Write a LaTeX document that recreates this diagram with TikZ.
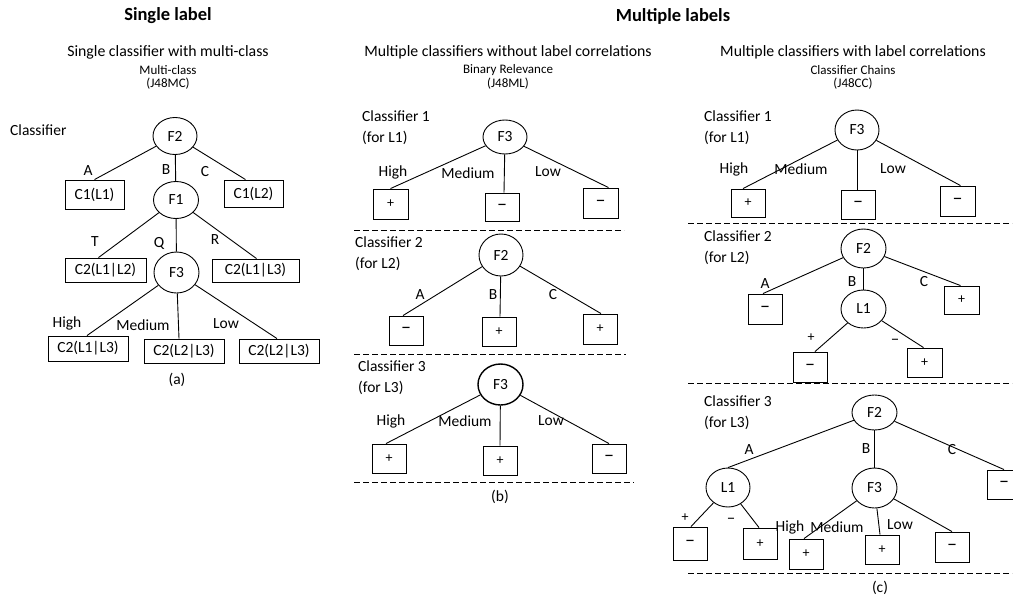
\documentclass[tikz,border=0pt]{standalone}
\usepackage{fontspec}
\setmainfont{Carlito}
\usetikzlibrary{shapes.geometric}
\tikzset{
  cnode/.style={ellipse,draw,line width=0.9pt,inner sep=0pt,font={\fontsize{15.5}{18}\selectfont}},
  bx/.style={rectangle,draw,line width=0.9pt,inner sep=0pt,font={\fontsize{15.5}{18}\selectfont}},
  sbx/.style={rectangle,draw,line width=0.9pt,inner sep=0pt,minimum width=34pt,minimum height=29pt,font={\fontsize{14}{16}\selectfont}},
  mbx/.style={sbx,font={\fontsize{20}{20}\selectfont}},
  lbl/.style={inner sep=0pt,font={\fontsize{15.5}{18}\selectfont}},
  sgn/.style={inner sep=0pt,font={\fontsize{14}{16}\selectfont}},
  msgn/.style={inner sep=0pt,font={\fontsize{17}{17}\selectfont}},
  cl/.style={inner sep=0pt,anchor=west,align=left,font={\fontsize{15.5}{21}\selectfont}},
  ttl/.style={inner sep=0pt,font={\fontsize{18.5}{22}\selectfont\bfseries}},
  sub/.style={inner sep=0pt,font={\fontsize{15.8}{19}\selectfont}},
  sml/.style={inner sep=0pt,font={\fontsize{13}{15}\selectfont}},
  edge/.style={line width=0.9pt},
  sep/.style={line width=0.9pt,dash pattern=on 6pt off 3pt},
}
\begin{document}
\begin{tikzpicture}[x=1pt,y=-1pt]
\useasboundingbox (0,0) rectangle (1013,598);
% ---------------- Panel (a)
\node[ttl] (tA) at (168,16) {Single label};
\node[sub] (sA1) at (168,52) {Single classifier with multi-class};
\node[sml] (sA2) at (168,70) {Multi-class};
\node[sml] (sA3) at (168,84) {(J48MC)};
\node[cl] (clA) at (10,130) {Classifier};
\node[cnode,minimum width=44pt,minimum height=37pt] (aF2) at (175,136) {F2};
\node[bx,minimum width=59pt,minimum height=29pt] (aC1L1) at (94.5,194.5) {C1(L1)};
\node[bx,minimum width=59pt,minimum height=27pt] (aC1L2) at (253.5,193.5) {C1(L2)};
\node[cnode,minimum width=45pt,minimum height=37pt] (aF1) at (176,200) {F1};
\node[bx,minimum width=81pt,minimum height=24pt] (aC2a) at (105.5,270) {C2(L1|L2)};
\node[cnode,minimum width=45pt,minimum height=41pt] (aF3) at (176.5,272.5) {F3};
\node[bx,minimum width=87pt,minimum height=23pt] (aC2b) at (255.5,270.5) {C2(L1|L3)};
\node[bx,minimum width=80pt,minimum height=25pt] (aC2c) at (88,348.5) {C2(L1|L3)};
\node[bx,minimum width=80pt,minimum height=24pt] (aC2d) at (184,351) {C2(L2|L3)};
\node[bx,minimum width=80pt,minimum height=24pt] (aC2e) at (279,351) {C2(L2|L3)};
\draw[edge] (aF2) -- (aC1L1.north);
\draw[edge] (aF2) -- (aF1);
\draw[edge] (aF2) -- ([xshift=-8pt]aC1L2.north);
\draw[edge] (aF1) -- ([xshift=-7pt]aC2a.north);
\draw[edge] (aF1) -- (aF3);
\draw[edge] (aF1) -- ([xshift=1pt]aC2b.north);
\draw[edge] (aF3) -- ([xshift=-1pt]aC2c.north);
\draw[edge] (aF3) -- ([xshift=-5pt]aC2d.north);
\draw[edge] (aF3) -- ([xshift=-2pt]aC2e.north);
\node[lbl] (aLA) at (88,171) {A};
\node[lbl] (aLB) at (166,170) {B};
\node[lbl] (aLC) at (205,172) {C};
\node[lbl] (aLT) at (95,242) {T};
\node[lbl] (aLQ) at (159,243) {Q};
\node[lbl] (aLR) at (215,240) {R};
\node[lbl] (aLH) at (67,323) {High};
\node[lbl] (aLM) at (143,325) {Medium};
\node[lbl] (aLL) at (226,324) {Low};
\node[lbl] (capA) at (177,380) {(a)};
% ---------------- Panel (b)
\node[ttl] (tB) at (673,16) {Multiple labels};
\node[sub] (sB1) at (508,52) {Multiple classifiers without label correlations};
\node[sml] (sB2) at (508,70) {Binary Relevance};
\node[sml] (sB3) at (508,84) {(J48ML)};
% classifier 1
\node[cl] (clB1) at (362,127.5) {Classifier 1\\(for L1)};
\node[cnode,minimum width=44pt,minimum height=34pt] (b1F3) at (505,137) {F3};
\node[sbx,minimum width=35pt,minimum height=30pt] (b1a) at (390.5,204) {+};
\node[mbx,minimum height=28pt] (b1b) at (502,207) {–};
\node[mbx,minimum width=35pt,minimum height=30pt] (b1c) at (600.5,203) {–};
\draw[edge] (b1F3) -- (b1a.north);
\draw[edge] (b1F3) -- ([xshift=2pt]b1b.north);
\draw[edge] (b1F3) -- ([xshift=8pt]b1c.north);
\node[lbl] (b1H) at (393,172) {High};
\node[lbl] (b1M) at (468,173) {Medium};
\node[lbl] (b1L) at (548,172) {Low};
\coordinate (bd1s) at (354,230); \coordinate (bd1e) at (624,230);
\draw[sep] (bd1s) -- (bd1e);
% classifier 2
\node[cl] (clB2) at (355,254) {Classifier 2\\(for L2)};
\node[cnode,minimum width=44pt,minimum height=42pt] (b2F2) at (501,255) {F2};
\node[mbx] (b2a) at (406,330.5) {–};
\node[sbx] (b2b) at (499,331.5) {+};
\node[sbx,minimum height=30pt] (b2c) at (600,329) {+};
\draw[edge] (b2F2) -- ([xshift=-3pt]b2a.north);
\draw[edge] (b2F2) -- ([xshift=1pt]b2b.north);
\draw[edge] (b2F2) -- ([xshift=1pt]b2c.north);
\node[lbl] (b2A) at (420,295) {A};
\node[lbl] (b2B) at (493,295) {B};
\node[lbl] (b2C) at (553,295) {C};
\coordinate (bd2s) at (354,354); \coordinate (bd2e) at (626,354);
\draw[sep] (bd2s) -- (bd2e);
% classifier 3
\node[cl] (clB3) at (358,377.5) {Classifier 3\\(for L3)};
\node[cnode,minimum width=45pt,minimum height=41pt,line width=1.4pt] (b3F3) at (500.5,384.5) {F3};
\node[sbx] (b3a) at (389,458.5) {+};
\node[sbx] (b3b) at (500,460.5) {+};
\node[mbx] (b3c) at (609,458.5) {–};
\draw[edge] (b3F3) -- ([xshift=-3pt]b3a.north);
\draw[edge] (b3F3) -- (b3b.north);
\draw[edge] (b3F3) -- (b3c.north);
\node[lbl] (b3H) at (391,421) {High};
\node[lbl] (b3M) at (465,421) {Medium};
\node[lbl] (b3L) at (551,421) {Low};
\coordinate (bd3s) at (354,482); \coordinate (bd3e) at (634,482);
\draw[sep] (bd3s) -- (bd3e);
\node[lbl] (capB) at (500,497) {(b)};
% ---------------- Panel (c)
\node[sub] (sC1) at (853,52) {Multiple classifiers with label correlations};
\node[sml] (sC2) at (853,70) {Classifier Chains};
\node[sml] (sC3) at (853,84) {(J48CC)};
% classifier 1
\node[cl] (clC1) at (704,127.5) {Classifier 1\\(for L1)};
\node[cnode,minimum width=44pt,minimum height=40pt] (c1F3) at (857,130) {F3};
\node[sbx,minimum height=28pt] (c1a) at (748,203) {+};
\node[mbx] (c1b) at (858,204.5) {–};
\node[mbx,minimum width=35pt,minimum height=30pt] (c1c) at (957.5,201) {–};
\draw[edge] (c1F3) -- ([xshift=-5pt]c1a.north);
\draw[edge] (c1F3) -- ([xshift=-1pt]c1b.north);
\draw[edge] (c1F3) -- ([xshift=3pt]c1c.north);
\node[lbl] (c1H) at (734,169) {High};
\node[lbl] (c1M) at (801,169) {Medium};
\node[lbl] (c1L) at (893,169) {Low};
\coordinate (cd1s) at (688,223); \coordinate (cd1e) at (1012,223);
\draw[sep] (cd1s) -- (cd1e);
% classifier 2
\node[cl] (clC2) at (704,248) {Classifier 2\\(for L2)};
\node[cnode,minimum width=45pt,minimum height=39pt] (c2F2) at (863.5,248.5) {F2};
\node[mbx,minimum height=30pt] (c2a) at (765,309) {–};
\node[cnode,minimum width=45pt,minimum height=38pt] (c2L1) at (863.5,309) {L1};
\node[sbx,minimum width=35pt,minimum height=28pt] (c2c) at (961.5,300) {+};
\draw[edge] (c2F2) -- ([xshift=-2pt]c2a.north);
\draw[edge] (c2F2) -- (c2L1);
\draw[edge] (c2F2) -- ([xshift=-1pt]c2c.north);
\node[lbl] (c2A) at (765,284) {A};
\node[lbl] (c2B) at (852,282) {B};
\node[lbl] (c2C) at (924,282) {C};
\node[mbx,minimum height=30pt] (c2d) at (810,367) {–};
\node[sbx,minimum width=35pt] (c2e) at (924.5,362.5) {+};
\draw[edge] (c2L1) -- ([xshift=5pt]c2d.north);
\draw[edge] (c2L1) -- ([xshift=-1pt]c2e.north);
\node[sgn] (c2p) at (811,338) {+};
\node[msgn] (c2m) at (895,342) {–};
\coordinate (cd2s) at (688,383); \coordinate (cd2e) at (1012,383);
\draw[sep] (cd2s) -- (cd2e);
% classifier 3
\node[cl] (clC3) at (704,412.5) {Classifier 3\\(for L3)};
\node[cnode,minimum width=45pt,minimum height=35pt] (c3F2) at (874.5,412.5) {F2};
\node[cnode,minimum width=44pt,minimum height=39pt] (c3L1) at (728,487.5) {L1};
\node[cnode,minimum width=45pt,minimum height=40pt] (c3F3) at (874.5,488) {F3};
\node[mbx] (c3mR) at (1004,484.5) {–};
\draw[edge] (c3F2) -- (c3L1.north);
\draw[edge] (c3F2) -- (c3F3);
\draw[edge] (c3F2) -- (c3mR.north);
\node[lbl] (c3A) at (749,450) {A};
\node[lbl] (c3B) at (866,449) {B};
\node[lbl] (c3C) at (952,450) {C};
\node[mbx,minimum height=33pt] (c3a) at (690,543.5) {–};
\node[sbx,minimum height=31pt] (c3b) at (760,543.5) {+};
\draw[edge] (c3L1) -- ([xshift=1pt]c3a.north);
\draw[edge] (c3L1) -- ([xshift=-1pt]c3b.north);
\node[sgn] (c3p) at (685,518) {+};
\node[msgn] (c3m) at (731,521) {–};
\node[sbx,minimum height=30pt] (c3c) at (806,554) {+};
\node[sbx] (c3d) at (882,549.5) {+};
\node[mbx,minimum height=30pt] (c3e) at (952,547) {–};
\draw[edge] (c3F3) -- ([xshift=-2pt]c3c.north);
\draw[edge] (c3F3) -- ([xshift=-2pt]c3d.north);
\draw[edge] (c3F3) -- (c3e.north);
\node[lbl] (c3H) at (790,527) {High};
\node[lbl] (c3M) at (837,527) {Medium};
\node[lbl] (c3L) at (900,525) {Low};
\coordinate (cd3s) at (688,573); \coordinate (cd3e) at (1012,573);
\draw[sep] (cd3s) -- (cd3e);
\node[lbl] (capC) at (880,588) {(c)};
\end{tikzpicture}
\end{document}
